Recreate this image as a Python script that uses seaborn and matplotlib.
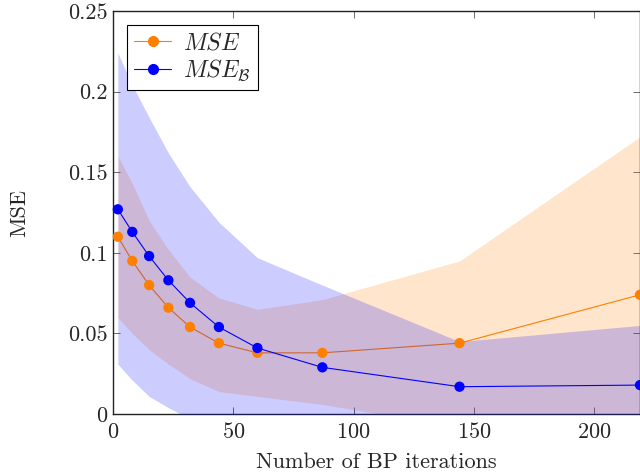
import numpy as np
import pandas as pd
import matplotlib
matplotlib.use("Agg")
import matplotlib.pyplot as plt
import seaborn as sns
from matplotlib.lines import Line2D

# values
iterations = [2, 8, 15, 23, 32, 44, 60, 87, 144, 219]

mse = [0.110, 0.095, 0.080, 0.066, 0.054, 0.044, 0.038, 0.038, 0.044, 0.074]
mse_lo = [0.060, 0.050, 0.040, 0.031, 0.022, 0.014, 0.011, 0.006, -0.008, -0.020]
mse_hi = [0.160, 0.143, 0.120, 0.102, 0.085, 0.072, 0.065, 0.071, 0.095, 0.172]

mse_b = [0.127, 0.113, 0.098, 0.083, 0.069, 0.054, 0.041, 0.029, 0.017, 0.018]
mse_b_lo = [0.031, 0.021, 0.011, 0.004, -0.003, -0.012, -0.020, -0.030, -0.030, -0.030]
mse_b_hi = [0.224, 0.204, 0.184, 0.162, 0.141, 0.119, 0.097, 0.080, 0.045, 0.055]

orange = "#ff8000"
blue = "#0000ff"

df = pd.DataFrame({"it": iterations, "mse": mse, "mse_b": mse_b})

sns.set_style("ticks")
plt.rcParams["font.family"] = ["cmr10", "DejaVu Serif"]
plt.rcParams["mathtext.fontset"] = "cm"
plt.rcParams["axes.formatter.use_mathtext"] = True

fig = plt.figure(figsize=(6.4, 4.76), dpi=100)
ax = fig.add_axes([0.1766, 0.130, 0.8234, 0.847])

# bands first, blue one on top of the orange one
ax.fill_between(df["it"], mse_lo, mse_hi, color=orange, alpha=0.2, lw=0, zorder=1)
sns.lineplot(data=df, x="it", y="mse", color=orange, lw=0.8, ax=ax, zorder=2)
ax.fill_between(df["it"], mse_b_lo, mse_b_hi, color=blue, alpha=0.2, lw=0, zorder=3)
sns.lineplot(data=df, x="it", y="mse_b", color=blue, lw=0.8, ax=ax, zorder=4)

sns.scatterplot(data=df, x="it", y="mse", color=orange, s=55, edgecolor="none", ax=ax, zorder=5, clip_on=False)
sns.scatterplot(data=df, x="it", y="mse_b", color=blue, s=55, edgecolor="none", ax=ax, zorder=6, clip_on=False)

ax.set_xlim(0, 219)
ax.set_ylim(0, 0.25)
ax.set_xticks([0, 50, 100, 150, 200])
ax.set_yticks([0, 0.05, 0.1, 0.15, 0.2, 0.25])
ax.set_yticklabels(["0", "0.05", "0.1", "0.15", "0.2", "0.25"])
ax.tick_params(direction="in", top=True, right=True, length=5, width=0.6,
               color="#555555", labelsize=16, pad=4)
ax.tick_params(axis="x", pad=6)
for s in ax.spines.values():
    s.set_linewidth(1.0)
    s.set_color("#222222")

ax.set_xlabel("Number of BP iterations", fontsize=16, labelpad=7)
ax.set_ylabel("MSE", fontsize=16, labelpad=28)

handles = [
    Line2D([], [], color=orange, lw=0.8, marker="o", markersize=7),
    Line2D([], [], color=blue, lw=0.8, marker="o", markersize=7),
]
leg = ax.legend(handles, [r"$MSE$", r"$MSE_{\mathcal{B}}$"], loc="upper left",
                fontsize=17, frameon=True, fancybox=False, framealpha=1,
                edgecolor="black", borderaxespad=0.6, handlelength=1.55,
                handletextpad=0.5, borderpad=0.3, labelspacing=0.15)
leg.get_frame().set_linewidth(0.8)

fig.savefig("out.png", dpi=100)
